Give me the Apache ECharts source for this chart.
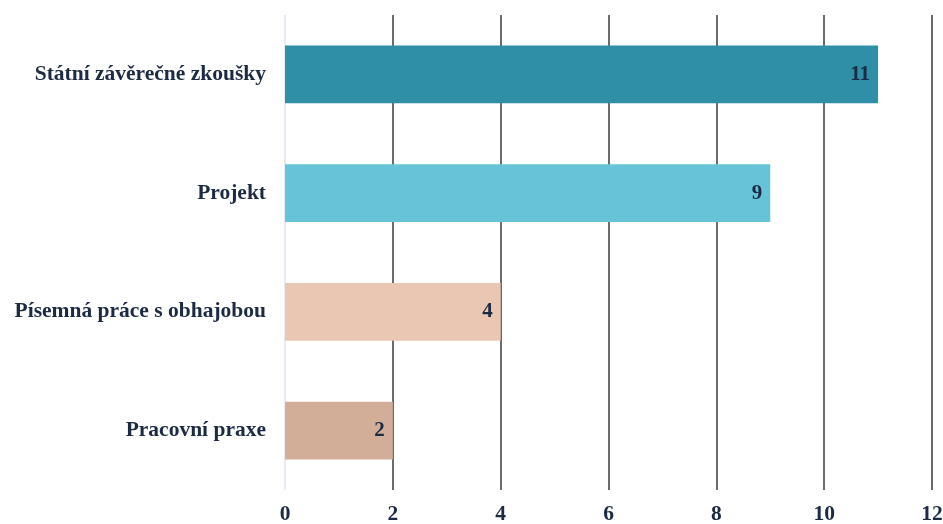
<!DOCTYPE html>
<html>
<head>
<meta charset="utf-8">
<script src="https://cdn.jsdelivr.net/npm/echarts@6/dist/echarts.min.js"></script>
<style>
  html, body { margin: 0; padding: 0; background: #ffffff; }
  #chart { width: 943px; height: 524px; }
</style>
</head>
<body>
<div id="chart"></div>
<script>
// Categories listed bottom to top (category axis on y runs upward)
const categories = ['Pracovní praxe', 'Písemná práce s obhajobou', 'Projekt', 'Státní závěrečné zkoušky'];
const values = [2, 4, 9, 11];
const barColors = ['#d2ae99', '#eac7b2', '#67c4d8', '#2e8fa6'];
const xTicks = [0, 2, 4, 6, 8, 10, 12];

const textColor = '#1c2a43';
const fontFamily = '"Liberation Serif", "Times New Roman", serif';

const chart = echarts.init(document.getElementById('chart'));
chart.setOption({
  backgroundColor: '#ffffff',
  animation: false,
  grid: { left: 285, right: 11, top: 15, bottom: 34, containLabel: false, outerBoundsMode: 'none' },
  xAxis: {
    type: 'value',
    min: xTicks[0],
    max: xTicks[xTicks.length - 1],
    interval: 2,
    axisLine: { show: false },
    axisTick: { show: false },
    axisLabel: {
      color: textColor, fontFamily: fontFamily, fontWeight: 'bold', fontSize: 21.5,
      margin: 13
    },
    splitLine: {
      show: true,
      lineStyle: { color: ['#dfe6ee', '#3a3a3a', '#3a3a3a', '#3a3a3a', '#3a3a3a', '#3a3a3a', '#3a3a3a'], width: 1.5 }
    }
  },
  yAxis: {
    type: 'category',
    data: categories,
    axisLine: { show: false },
    axisTick: { show: false },
    axisLabel: {
      color: textColor, fontFamily: fontFamily, fontWeight: 'bold', fontSize: 21.5,
      margin: 19
    }
  },
  series: [{
    type: 'bar',
    data: values.map((v, i) => ({ value: v, itemStyle: { color: barColors[i] } })),
    barWidth: '48.5%',
    label: {
      show: true,
      position: 'insideRight',
      distance: 8,
      color: textColor, fontFamily: fontFamily, fontWeight: 'bold', fontSize: 21
    }
  }]
});
</script>
</body>
</html>
